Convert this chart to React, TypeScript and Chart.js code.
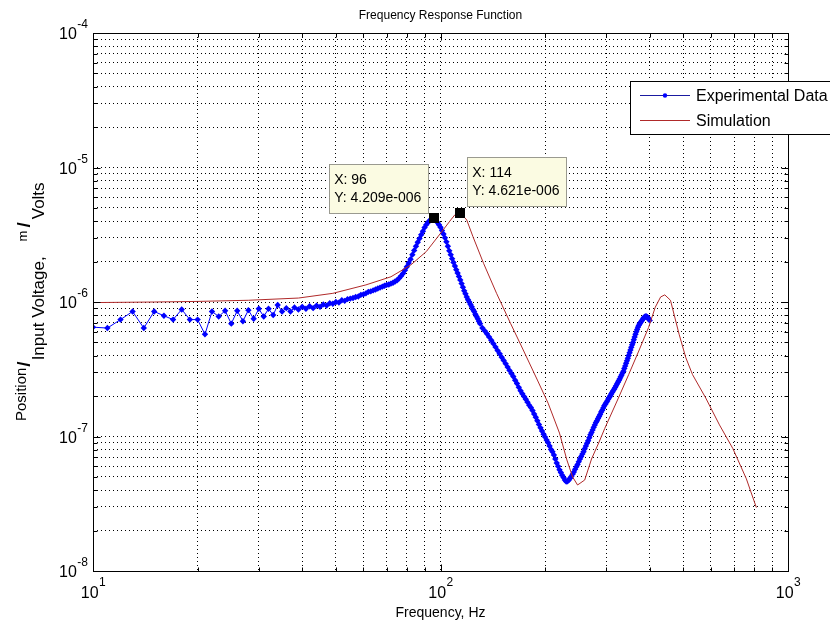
import React, { useEffect, useRef } from "react";
import { Chart, registerables } from "chart.js";

Chart.register(...registerables);

// ---------------- data ----------------
const UNIT = 1e-7; // values below are in units of 1e-7 m/V

// Experimental data, 10..130 Hz, 1 Hz spacing
const expLowStart = 10;
const expLowStep = 1;
const expLowValues = [
  6.5, 6.4, 7.4, 8.5, 6.4, 8.5, 7.9, 7.4, 8.8, 7.4,
  7.4, 5.75, 8.5, 7.8, 8.6, 6.9, 8.6, 7.2, 8.7, 7.5,
  8.9, 7.8, 8.9, 8.0, 9.5, 8.5, 9.0, 8.5, 9.1, 8.8,
  9.2, 8.9, 9.3, 9.0, 9.4, 9.2, 9.6, 9.4, 9.8, 9.7,
  10.0, 9.9, 10.3, 10.2, 10.5, 10.6, 10.7, 10.9, 11.0, 11.3,
  11.4, 11.6, 11.9, 12.0, 12.2, 12.4, 12.6, 12.8, 13.0, 13.2,
  13.4, 13.5, 13.7, 13.9, 14.2, 14.5, 15.0, 15.6, 16.3, 17.2,
  18.3, 19.5, 20.8, 22.5, 24.2, 26.0, 27.8, 29.6, 31.6, 33.6,
  35.8, 37.6, 39.0, 40.2, 41.2, 41.9, 42.09, 40.5, 39.0, 37.5,
  36.0, 34.0, 32.0, 30.0, 28.0, 26.0, 24.0, 22.5, 21.0, 19.7,
  18.5, 17.4, 16.4, 15.5, 14.6, 13.7, 12.9, 12.1, 11.5, 10.9,
  10.4, 10.0, 9.6, 9.2, 8.8, 8.5, 8.1, 7.8, 7.5, 7.2,
  6.9,
];

// Experimental data, 132..400 Hz, 2 Hz spacing
const expHighStart = 132;
const expHighStep = 2;
const expHighValues = [
  6.4, 6.1, 5.8, 5.5, 5.2, 4.9, 4.62, 4.35, 4.12, 3.88,
  3.68, 3.48, 3.28, 3.1, 2.94, 2.79, 2.62, 2.48, 2.32, 2.19,
  2.08, 1.98, 1.89, 1.8, 1.71, 1.64, 1.56, 1.47, 1.39, 1.31,
  1.23, 1.16, 1.1, 1.04, 0.99, 0.94, 0.9, 0.85, 0.8, 0.77,
  0.73, 0.68, 0.635, 0.6, 0.565, 0.54, 0.515, 0.495, 0.475, 0.462,
  0.465, 0.475, 0.49, 0.505, 0.525, 0.545, 0.57, 0.595, 0.62, 0.65,
  0.68, 0.71, 0.74, 0.77, 0.81, 0.85, 0.89, 0.93, 0.98, 1.03,
  1.07, 1.12, 1.17, 1.22, 1.27, 1.31, 1.36, 1.41, 1.46, 1.52,
  1.57, 1.63, 1.69, 1.74, 1.79, 1.84, 1.9, 1.95, 2.01, 2.07,
  2.13, 2.19, 2.25, 2.31, 2.38, 2.46, 2.53, 2.61, 2.69, 2.78,
  2.87, 2.96, 3.06, 3.2, 3.35, 3.5, 3.65, 3.82, 4.0, 4.2,
  4.4, 4.6, 4.8, 5.0, 5.25, 5.5, 5.75, 6.0, 6.25, 6.5,
  6.7, 6.85, 7.0, 7.15, 7.3, 7.45, 7.6, 7.7, 7.8, 7.8,
  7.8, 7.7, 7.6, 7.45, 7.3,
];

// Simulation
const simFreq = [
  10, 15, 20, 28, 39, 49, 61, 72, 82, 91,
  100, 107, 110, 114, 119, 124, 133, 145, 159, 173,
  190, 204, 220, 231, 240, 248, 260, 272, 286, 297,
  325, 348, 372, 397, 415, 430, 442, 459, 486, 508,
  531, 580, 635, 694, 759, 811,
];
const simValues = [
  9.9, 10.0, 10.1, 10.3, 10.7, 11.6, 13.4, 15.4, 18.8, 23.7,
  32.4, 40.7, 44.5, 46.21, 40.7, 30.6, 19.4, 11.6, 6.95, 4.4,
  2.63, 1.77, 1.06, 0.67, 0.5, 0.436, 0.475, 0.68, 0.91, 1.15,
  1.93, 2.89, 4.32, 6.47, 9.15, 10.9, 11.3, 10.3, 5.76, 3.86,
  2.89, 1.93, 1.22, 0.813, 0.484, 0.296,
];

// Axis ranges & tick labels
const xMin = 10;
const xMax = 1000;
const yMin = 1e-8;
const yMax = 1e-4;
const xDecadeExponents = [1, 2, 3];
const yDecadeExponents = [-8, -7, -6, -5, -4];

// Data tips
const tipPoints = [
  { x: 96, y: 4.209e-6, lines: ["X: 96", "Y: 4.209e-006"], side: "left" },
  { x: 114, y: 4.621e-6, lines: ["X: 114", "Y: 4.621e-006"], side: "right" },
];

const titleText = "Frequency Response Function";
const xLabelText = "Frequency, Hz";
const legendLabels = ["Experimental Data", "Simulation"];

// ---------------- helpers ----------------
const FONT = '"Liberation Sans", Arial, sans-serif';
const EXP_COLOR = "#0000ff";
const SIM_COLOR = "#b02a2a";

function logGrid(minExp: number, maxExp: number): number[] {
  const out: number[] = [];
  for (let e = minExp; e < maxExp; e++) {
    for (let m = 1; m < 10; m++) out.push(m * Math.pow(10, e));
  }
  out.push(Math.pow(10, maxExp));
  return out;
}

function isDecade(v: number): boolean {
  const l = Math.log10(v);
  return Math.abs(l - Math.round(l)) < 1e-9;
}

const overlayPlugin = {
  id: "matlabOverlay",
  beforeDraw(chart: any) {
    const { ctx, width, height } = chart;
    ctx.save();
    ctx.fillStyle = "#fff";
    ctx.fillRect(0, 0, width, height);
    ctx.restore();
  },
  afterDraw(chart: any) {
    const { ctx, chartArea: a } = chart;
    const xs = chart.scales.x;
    const ys = chart.scales.y;
    const L = Math.round(a.left) + 0.5;
    const R = Math.round(a.right) + 0.5;
    const T = Math.round(a.top) + 0.5;
    const B = Math.round(a.bottom) + 0.5;
    ctx.save();

    // frame
    ctx.strokeStyle = "#000";
    ctx.lineWidth = 1;
    ctx.setLineDash([]);
    ctx.strokeRect(L, T, R - L, B - T);

    // inward tick marks
    ctx.beginPath();
    logGrid(1, 3).forEach((v) => {
      const px = Math.round(xs.getPixelForValue(v)) + 0.5;
      const len = isDecade(v) ? 7 : 4;
      ctx.moveTo(px, B);
      ctx.lineTo(px, B - len);
      ctx.moveTo(px, T);
      ctx.lineTo(px, T + len);
    });
    logGrid(-8, -4).forEach((v) => {
      const py = Math.round(ys.getPixelForValue(v)) + 0.5;
      const len = isDecade(v) ? 7 : 4;
      ctx.moveTo(L, py);
      ctx.lineTo(L + len, py);
      ctx.moveTo(R, py);
      ctx.lineTo(R - len, py);
    });
    ctx.stroke();

    ctx.fillStyle = "#000";
    ctx.textBaseline = "alphabetic";
    const baseFont = `16px ${FONT}`;
    const supFont = `12px ${FONT}`;

    // x tick labels
    xDecadeExponents.forEach((e) => {
      const px = xs.getPixelForValue(Math.pow(10, e));
      ctx.font = baseFont;
      const w1 = ctx.measureText("10").width;
      ctx.font = supFont;
      const w2 = ctx.measureText(String(e)).width;
      const start = px - (w1 + w2) / 2;
      ctx.textAlign = "left";
      ctx.font = baseFont;
      ctx.fillText("10", start, a.bottom + 27);
      ctx.font = supFont;
      ctx.fillText(String(e), start + w1 + 0.5, a.bottom + 15);
    });

    // y tick labels
    yDecadeExponents.forEach((e) => {
      const py = ys.getPixelForValue(Math.pow(10, e));
      const right = a.left - 5;
      ctx.font = supFont;
      const w2 = ctx.measureText(String(e)).width;
      ctx.textAlign = "left";
      ctx.fillText(String(e), right - w2, py - 5);
      ctx.font = baseFont;
      const w1 = ctx.measureText("10").width;
      ctx.fillText("10", right - w2 - w1 - 0.5, py + 6);
    });

    // title
    ctx.textAlign = "center";
    ctx.font = `12px ${FONT}`;
    ctx.fillText(titleText, (a.left + a.right) / 2, 19);

    // x label
    ctx.font = `14px ${FONT}`;
    ctx.fillText(xLabelText, (a.left + a.right) / 2, 617);

    // y label (rotated)
    ctx.save();
    ctx.translate(26, 421);
    ctx.rotate(-Math.PI / 2);
    ctx.textAlign = "left";
    let s = 0;
    const piece = (t: string, font: string, dy: number, gap = 0) => {
      ctx.font = font;
      ctx.fillText(t, s, dy);
      s += ctx.measureText(t).width + gap;
    };
    piece("Position", `15px ${FONT}`, 0, 1);
    piece("/", `bold 19px ${FONT}`, 4, 1);
    piece("Input Voltage,", `17px ${FONT}`, 18, 15);
    piece("m", `13px ${FONT}`, 1, 3);
    piece("/", `bold 19px ${FONT}`, 4, 3);
    piece("Volts", `17px ${FONT}`, 18, 0);
    ctx.restore();

    // data tips
    tipPoints.forEach((tp) => {
      const px = xs.getPixelForValue(tp.x);
      const py = ys.getPixelForValue(tp.y);
      ctx.font = `14px ${FONT}`;
      const w = Math.max(...tp.lines.map((l) => ctx.measureText(l).width)) + 12;
      const h = 49;
      const bx = tp.side === "left" ? px - 6 - w : px + 7;
      const by = tp.side === "left" ? py - 5 - h : py - 7 - h;
      ctx.fillStyle = "#fbfbe2";
      ctx.fillRect(Math.round(bx) + 0.5, Math.round(by) + 0.5, Math.round(w), h);
      ctx.strokeStyle = "#9a9a90";
      ctx.lineWidth = 1;
      ctx.strokeRect(Math.round(bx) + 0.5, Math.round(by) + 0.5, Math.round(w), h);
      ctx.fillStyle = "#000";
      ctx.textAlign = "left";
      ctx.fillText(tp.lines[0], bx + 5, by + 20);
      ctx.fillText(tp.lines[1], bx + 5, by + 38);
      ctx.fillRect(Math.round(px) - 5, Math.round(py) - 5, 10, 10);
    });

    // legend
    const lx = 630.5;
    const ly = 81.5;
    ctx.fillStyle = "#fff";
    ctx.fillRect(lx, ly, 220, 53);
    ctx.strokeStyle = "#000";
    ctx.strokeRect(lx, ly, 220, 53);
    ctx.lineWidth = 1;
    ctx.strokeStyle = "#1a1aa0";
    ctx.beginPath();
    ctx.moveTo(640, 95.5);
    ctx.lineTo(690, 95.5);
    ctx.stroke();
    ctx.fillStyle = EXP_COLOR;
    ctx.beginPath();
    ctx.arc(665, 95.5, 2.2, 0, Math.PI * 2);
    ctx.fill();
    ctx.strokeStyle = SIM_COLOR;
    ctx.beginPath();
    ctx.moveTo(640, 120.5);
    ctx.lineTo(690, 120.5);
    ctx.stroke();
    ctx.fillStyle = "#000";
    ctx.font = `16px ${FONT}`;
    ctx.textAlign = "left";
    ctx.fillText(legendLabels[0], 696, 101);
    ctx.fillText(legendLabels[1], 696, 126);

    ctx.restore();
  },
};

export default function App() {
  const ref = useRef<HTMLCanvasElement | null>(null);

  useEffect(() => {
    if (!ref.current) return;
    const expPoints = [
      ...expLowValues.map((v, i) => ({ x: expLowStart + i * expLowStep, y: v * UNIT })),
      ...expHighValues.map((v, i) => ({ x: expHighStart + i * expHighStep, y: v * UNIT })),
    ];
    const simPoints = simFreq.map((f, i) => ({ x: f, y: simValues[i] * UNIT }));
    const xGrid = logGrid(1, 3);
    const yGrid = logGrid(-8, -4);

    const gridCommon = {
      color: "#000",
      lineWidth: 1,
      drawTicks: false,
      tickLength: 0,
    };

    const chart = new Chart(ref.current, {
      type: "scatter",
      data: {
        datasets: [
          {
            label: legendLabels[1],
            data: simPoints,
            showLine: true,
            borderColor: SIM_COLOR,
            borderWidth: 1,
            pointRadius: 0,
            tension: 0,
            order: 0,
          },
          {
            label: legendLabels[0],
            data: expPoints,
            showLine: true,
            borderColor: EXP_COLOR,
            backgroundColor: EXP_COLOR,
            borderWidth: 1,
            pointStyle: "rectRot",
            pointRadius: 3.2,
            pointBorderWidth: 0,
            tension: 0,
            order: 1,
          },
        ],
      },
      options: {
        responsive: false,
        animation: false,
        events: [],
        layout: { padding: { left: 93, right: 42, top: 33, bottom: 54 } },
        plugins: {
          legend: { display: false },
          title: { display: false },
          tooltip: { enabled: false },
        },
        scales: {
          x: {
            type: "logarithmic",
            min: xMin,
            max: xMax,
            afterBuildTicks: (s: any) => {
              s.ticks = xGrid.map((v) => ({ value: v }));
            },
            afterFit: (s: any) => {
              s.height = 0;
            },
            ticks: { display: false, autoSkip: false },
            grid: gridCommon,
            border: { display: false, dash: [1, 3] },
          },
          y: {
            type: "logarithmic",
            min: yMin,
            max: yMax,
            afterBuildTicks: (s: any) => {
              s.ticks = yGrid.map((v) => ({ value: v }));
            },
            afterFit: (s: any) => {
              s.width = 0;
            },
            ticks: { display: false, autoSkip: false },
            grid: gridCommon,
            border: { display: false, dash: [1, 3] },
          },
        },
      } as any,
      plugins: [overlayPlugin],
    });
    return () => chart.destroy();
  }, []);

  return (
    <div style={{ position: "absolute", left: 0, top: 0, width: 830, height: 625 }}>
      <canvas ref={ref} width={830} height={625} style={{ display: "block" }} />
    </div>
  );
}
